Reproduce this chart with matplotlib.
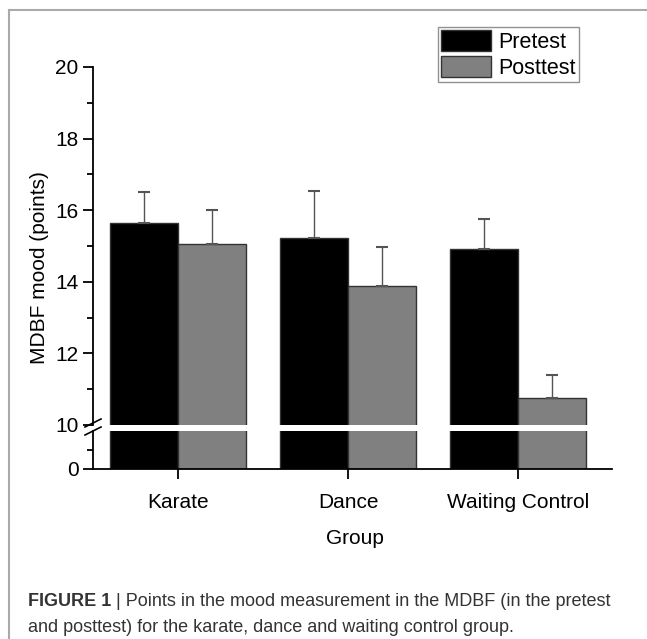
import numpy as np
import matplotlib
matplotlib.use("Agg")
import matplotlib.pyplot as plt
from matplotlib.lines import Line2D
from matplotlib.patches import Patch

plt.rcParams.update({"font.family": ["Liberation Sans", "DejaVu Sans"], "font.size": 15})

groups = ["Karate", "Dance", "Waiting Control"]
pretest = [15.65, 15.23, 14.93]
posttest = [15.06, 13.89, 10.75]
pretest_sd = [0.87, 1.31, 0.82]
posttest_sd = [0.94, 1.08, 0.65]

W, H = 647, 639
fig = plt.figure(figsize=(W / 100, H / 100), dpi=100)

def fx(px):
    return px / W

def fy(py):
    return 1 - py / H

left, right = 93, 612
ax_top = fig.add_axes([fx(left), fy(425), fx(right - left), fy(67) - fy(425)])
ax_bot = fig.add_axes([fx(left), fy(469), fx(right - left), fy(431) - fy(469)])

x = np.arange(len(groups))
w = 0.4
for ax in (ax_top, ax_bot):
    ax.bar(x - w / 2, pretest, width=w, color="black", edgecolor="#333333", linewidth=1)
    ax.bar(x + w / 2, posttest, width=w, color="#808080", edgecolor="#333333", linewidth=1)
    ax.set_xlim(-0.5, 2.55)
    for s in ("top", "right"):
        ax.spines[s].set_visible(False)
    ax.spines["left"].set_linewidth(1.3)
    ax.spines["bottom"].set_linewidth(1.3)

ax_top.errorbar(x - w / 2, pretest, yerr=[[0] * 3, pretest_sd], fmt="none",
                ecolor="#555555", elinewidth=1, capsize=4, capthick=1.5)
ax_top.errorbar(x + w / 2, posttest, yerr=[[0] * 3, posttest_sd], fmt="none",
                ecolor="#555555", elinewidth=1, capsize=4, capthick=1.5)

ax_top.set_ylim(10, 20)
ax_top.spines["bottom"].set_visible(False)
ax_top.set_xticks([])
ax_top.set_yticks([10, 12, 14, 16, 18, 20])
ax_top.set_yticks([11, 13, 15, 17, 19], minor=True)
ax_top.tick_params(axis="y", which="major", length=7, width=1.3, labelsize=15)
ax_top.tick_params(axis="y", which="minor", length=4, width=1.3)

ax_bot.set_ylim(0, 10)
ax_bot.set_yticks([0])
ax_bot.set_yticks([5], minor=True)
ax_bot.tick_params(axis="y", which="major", length=7, width=1.3, labelsize=15)
ax_bot.tick_params(axis="y", which="minor", length=4, width=1.3)
ax_bot.set_xticks(x)
ax_bot.set_xticklabels(groups)
ax_bot.tick_params(axis="x", length=7, width=1.3, pad=10, labelsize=15)

# break marks on the y axis
for yy in (423, 431):
    fig.add_artist(Line2D([fx(left - 8), fx(left + 8)], [fy(yy + 4), fy(yy - 4)],
                          color="black", linewidth=1.2))

fig.text(fx(40), fy(268), "MDBF mood (points)", rotation=90, ha="center", va="center", fontsize=15)
fig.text(fx(355), fy(538), "Group", ha="center", va="center", fontsize=15)

handles = [Patch(facecolor="black", edgecolor="#333333"),
           Patch(facecolor="#808080", edgecolor="#333333")]
leg = fig.legend(handles, ["Pretest", "Posttest"], loc="upper left",
                 bbox_to_anchor=(fx(438), fy(27)), frameon=True, fancybox=False,
                 handlelength=2.3, handleheight=1.1, handletextpad=0.33,
                 borderpad=0.15, labelspacing=0.15, borderaxespad=0, fontsize=15.5)
leg.get_frame().set_edgecolor("#777777")
leg.get_frame().set_linewidth(1)

# page frame
fig.add_artist(Line2D([fx(9), 1], [fy(10), fy(10)], color="#aaaaaa", linewidth=1.5))
fig.add_artist(Line2D([fx(9), fx(9)], [fy(10), 0], color="#aaaaaa", linewidth=1.5))

# caption
r = fig.canvas.get_renderer()
t1 = fig.text(fx(28), fy(601), "FIGURE 1", fontweight="bold", ha="left", va="center",
              fontsize=13, color="#333333")
bb = t1.get_window_extent(renderer=r)
fig.text(bb.x1 / W, fy(601), " | Points in the mood measurement in the MDBF (in the pretest",
         ha="left", va="center", fontsize=13, color="#333333")
fig.text(fx(28), fy(627), "and posttest) for the karate, dance and waiting control group.",
         ha="left", va="center", fontsize=13, color="#333333")

fig.savefig("out.png", dpi=100)
